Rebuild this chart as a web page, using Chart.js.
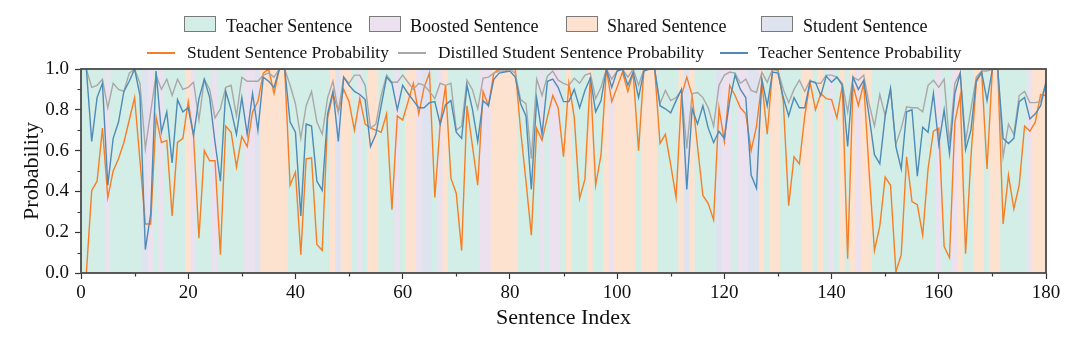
<!DOCTYPE html>
<html>
<head>
<meta charset="utf-8">
<script src="https://cdn.jsdelivr.net/npm/chart.js@4.4.0/dist/chart.umd.min.js"></script>
<style>
  html, body { margin: 0; padding: 0; background: #fff; }
  .wrap { position: relative; width: 1080px; height: 341px; font-family: 'Liberation Serif', 'Times New Roman', serif; color: #111; }
  .wrap canvas { position: absolute; left: 0; top: 0; }
  .lg-box { position: absolute; top: 16px; width: 30px; height: 14px; border: 1px solid #7a7a7a; }
  .lg-line { position: absolute; top: 52px; width: 28px; height: 2px; }
  .lg-text { position: absolute; line-height: 18px; white-space: nowrap; }
  .row1 { top: 17px; font-size: 18px; }
  .row2 { top: 43px; font-size: 17.4px; }
</style>
</head>
<body>
<div class="wrap">
  <canvas id="probChart" width="1080" height="341"></canvas>
  <div id="legend"></div>
</div>
<script>
// sentence kinds, one per index 0..180
// T = teacher, B = boosted, H = shared, S = student
const sentenceType = (
  'TTTTTBTTTT' + 'TTSBTBTTTT' + 'HBTTTBTTTT' + 'TBBSHHHHHT' + 'TTTTTTTHSH' +
  'HTBTHHTTTB' + 'THHBSSTBHT' + 'TTTTTBBHHH' + 'HHTTTTBTBB' + 'THTTTHTTHB' +
  'HHHHTHHHTT' + 'TTHSHTTTTS' + 'BBTBBSSHTH' + 'HTTTTHHTHT' + 'BTHTHBHHTT' +
  'TTTTTTTTTT' + 'BTTBHTTHHT' + 'HHTTTTTBHH' + 'H'
).split('');

// probabilities for sentences 1..180
const studentProb = [
  0.00, 0.405, 0.45, 0.71, 0.37, 0.50, 0.56, 0.64, 0.75, 0.86,
  0.55, 0.24, 0.24, 0.765, 0.64, 0.65, 0.28, 0.64, 0.66, 0.84,
  0.67, 0.17, 0.60, 0.55, 0.55, 0.09, 0.72, 0.69, 0.52, 0.67,
  0.62, 0.79, 0.84, 0.98, 1.00, 0.88, 1.00, 1.00, 0.43, 0.495,
  0.09, 0.56, 0.565, 0.14, 0.11, 0.76, 0.88, 0.79, 0.90, 0.84,
  0.70, 0.855, 0.73, 0.71, 0.70, 0.69, 0.78, 0.31, 0.77, 0.75,
  0.84, 0.93, 0.78, 0.91, 0.98, 0.37, 0.73, 0.92, 0.465, 0.39,
  0.11, 0.82, 0.625, 0.43, 0.89, 0.82, 0.98, 1.00, 1.00, 1.00,
  1.00, 0.70, 0.45, 0.185, 0.71, 0.65, 0.765, 0.87, 0.81, 0.57,
  0.93, 0.765, 0.365, 0.46, 0.96, 0.43, 0.58, 1.00, 0.84, 0.91,
  0.985, 0.89, 0.98, 0.60, 1.00, 1.00, 1.00, 0.635, 0.68, 0.53,
  0.37, 0.87, 0.96, 0.87, 0.62, 0.38, 0.34, 0.26, 0.81, 0.645,
  0.92, 0.87, 0.81, 0.78, 0.60, 0.72, 0.935, 0.68, 1.00, 1.00,
  0.84, 0.33, 0.57, 0.535, 0.77, 0.935, 0.80, 0.88, 0.855, 0.85,
  0.76, 0.92, 0.07, 0.92, 0.82, 0.93, 0.50, 0.11, 0.23, 0.47,
  0.43, 0.005, 0.09, 0.57, 0.35, 0.335, 0.185, 0.51, 0.695, 0.71,
  0.13, 0.075, 0.74, 0.87, 0.095, 0.57, 0.935, 0.985, 0.51, 1.00,
  1.00, 0.24, 0.48, 0.315, 0.43, 0.72, 0.695, 0.74, 0.875, 0.87
];

const distilledProb = [
  1.00, 0.91, 0.92, 0.95, 0.81, 0.93, 0.90, 0.89, 0.98, 1.00,
  0.93, 0.61, 0.79, 0.97, 0.90, 0.95, 0.87, 0.95, 0.90, 0.91,
  0.935, 0.75, 0.95, 0.90, 0.76, 0.805, 0.91, 0.92, 0.77, 0.96,
  0.94, 0.94, 0.94, 0.97, 0.98, 0.96, 1.00, 1.00, 0.92, 0.83,
  0.66, 0.82, 0.89, 0.74, 0.68, 0.86, 0.94, 0.79, 0.96, 0.93,
  0.97, 0.97, 0.92, 0.71, 0.73, 0.87, 0.97, 0.935, 0.935, 0.97,
  0.935, 0.90, 0.93, 0.92, 0.89, 0.855, 0.93, 0.92, 0.93, 0.70,
  0.72, 0.945, 0.90, 0.805, 0.955, 0.96, 0.98, 0.99, 0.99, 1.00,
  0.98, 0.85, 0.83, 0.56, 0.95, 0.87, 0.965, 0.99, 0.945, 0.93,
  0.92, 0.955, 0.93, 0.97, 0.98, 0.855, 0.91, 1.00, 0.95, 0.99,
  1.00, 0.96, 1.00, 0.92, 1.00, 1.00, 1.00, 0.83, 0.895, 0.845,
  0.86, 0.895, 0.61, 0.88, 0.885, 0.86, 0.81, 0.72, 0.92, 0.97,
  0.985, 0.98, 0.93, 0.95, 0.895, 0.885, 0.985, 0.935, 1.00, 0.99,
  0.90, 0.835, 0.90, 0.945, 0.89, 0.945, 0.93, 0.93, 0.97, 0.97,
  0.96, 0.93, 0.79, 0.96, 0.945, 0.97, 0.83, 0.72, 0.875, 0.77,
  0.90, 0.63, 0.71, 0.815, 0.81, 0.81, 0.79, 0.92, 0.945, 0.91,
  0.95, 0.635, 0.93, 0.98, 0.645, 0.805, 0.96, 0.99, 0.99, 1.00,
  1.00, 0.57, 0.73, 0.68, 0.87, 0.89, 0.835, 0.835, 0.84, 0.935
];

const teacherProb = [
  1.00, 0.645, 0.86, 0.93, 0.43, 0.66, 0.74, 0.89, 0.94, 1.00,
  0.87, 0.115, 0.29, 0.99, 0.69, 0.79, 0.54, 0.85, 0.79, 0.81,
  0.675, 0.855, 0.95, 0.86, 0.64, 0.45, 0.89, 0.80, 0.68, 0.86,
  0.68, 0.88, 0.70, 0.96, 0.94, 0.91, 1.00, 1.00, 0.74, 0.69,
  0.28, 0.73, 0.72, 0.45, 0.405, 0.78, 0.89, 0.645, 0.96, 0.92,
  0.89, 0.875, 0.85, 0.62, 0.68, 0.82, 0.96, 0.93, 0.80, 0.92,
  0.88, 0.845, 0.81, 0.81, 0.835, 0.84, 0.73, 0.825, 0.845, 0.69,
  0.66, 0.92, 0.805, 0.645, 0.845, 0.82, 0.95, 0.98, 0.985, 0.99,
  0.96, 0.83, 0.77, 0.41, 0.855, 0.68, 0.94, 0.95, 0.91, 0.84,
  0.84, 0.90, 0.81, 0.895, 0.955, 0.79, 0.845, 1.00, 0.91, 0.99,
  1.00, 0.92, 0.985, 0.86, 0.99, 1.00, 1.00, 0.82, 0.805, 0.785,
  0.845, 0.90, 0.41, 0.805, 0.73, 0.82, 0.71, 0.64, 0.695, 0.66,
  0.845, 0.97, 0.90, 0.86, 0.48, 0.415, 0.95, 0.82, 0.985, 0.98,
  0.86, 0.77, 0.86, 0.81, 0.81, 0.94, 0.935, 0.87, 0.965, 0.935,
  0.96, 0.92, 0.62, 0.96, 0.90, 0.945, 0.77, 0.58, 0.535, 0.77,
  0.905, 0.62, 0.51, 0.79, 0.80, 0.475, 0.715, 0.69, 0.88, 0.63,
  0.80, 0.585, 0.88, 0.98, 0.605, 0.70, 0.945, 0.985, 0.845, 1.00,
  1.00, 0.66, 0.635, 0.66, 0.84, 0.86, 0.755, 0.78, 0.82, 0.935
];

const xMajorTicks = [0, 20, 40, 60, 80, 100, 120, 140, 160, 180];
const xMinorTicks = [10, 30, 50, 70, 90, 110, 130, 150, 170];
const yMinorTicks = [0.1, 0.3, 0.5, 0.7, 0.9];

const typeInfo = {
  T: { label: 'Teacher Sentence', color: '#d3eee6' },
  B: { label: 'Boosted Sentence', color: '#ece1ee' },
  H: { label: 'Shared Sentence',  color: '#fde2d0' },
  S: { label: 'Student Sentence', color: '#dfe3f0' }
};

const lineInfo = [
  { label: 'Student Sentence Probability', color: '#f77e24', values: studentProb },
  { label: 'Distilled Student Sentence Probability', color: '#a8a8a8', values: distilledProb },
  { label: 'Teacher Sentence Probability', color: '#4e8bb6', values: teacherProb }
];

const serif = "'Liberation Serif', 'Times New Roman', serif";

// legend, two rows above the plot
const legend = document.getElementById('legend');
const boxSpots = [[184, 226], [369, 410], [566, 607], [761, 803]];
['T', 'B', 'H', 'S'].forEach((k, i) => {
  const box = document.createElement('div');
  box.className = 'lg-box';
  box.style.left = boxSpots[i][0] + 'px';
  box.style.background = typeInfo[k].color;
  legend.appendChild(box);
  const txt = document.createElement('div');
  txt.className = 'lg-text row1';
  txt.style.left = boxSpots[i][1] + 'px';
  txt.textContent = typeInfo[k].label;
  legend.appendChild(txt);
});
const lineSpots = [[147, 187], [398, 438], [720, 758]];
lineInfo.forEach((d, i) => {
  const ln = document.createElement('div');
  ln.className = 'lg-line';
  ln.style.left = lineSpots[i][0] + 'px';
  ln.style.background = d.color;
  legend.appendChild(ln);
  const txt = document.createElement('div');
  txt.className = 'lg-text row2';
  txt.style.left = lineSpots[i][1] + 'px';
  txt.textContent = d.label;
  legend.appendChild(txt);
});

// minor ticks and the box around the plot
const axisFrame = {
  id: 'axisFrame',
  afterDraw(chart) {
    const { ctx, chartArea: a, scales: { x, y } } = chart;
    ctx.save();
    ctx.strokeStyle = '#333';
    ctx.lineWidth = 1.2;
    ctx.beginPath();
    xMinorTicks.forEach(v => {
      const px = Math.round(x.getPixelForValue(v)) + 0.5;
      ctx.moveTo(px, a.bottom);
      ctx.lineTo(px, a.bottom + 3.5);
    });
    yMinorTicks.forEach(v => {
      const py = Math.round(y.getPixelForValue(v)) + 0.5;
      ctx.moveTo(a.left, py);
      ctx.lineTo(a.left - 3.5, py);
    });
    ctx.stroke();
    ctx.strokeStyle = '#4a4a4a';
    ctx.lineWidth = 1.8;
    ctx.strokeRect(a.left, a.top, a.right - a.left, a.bottom - a.top);
    ctx.restore();
  }
};

const datasets = lineInfo.map((d, i) => ({
  type: 'line',
  label: d.label,
  data: d.values.map((v, j) => ({ x: j + 1, y: v })),
  borderColor: d.color,
  borderWidth: 1.4,
  pointRadius: 0,
  tension: 0,
  order: 3 - i
}));

datasets.push({
  type: 'bar',
  label: 'sentence type',
  data: sentenceType.map((t, i) => ({ x: i, y: 1 })),
  backgroundColor: sentenceType.map(t => typeInfo[t].color),
  borderWidth: 0,
  barPercentage: 1,
  categoryPercentage: 1,
  order: 10
});

new Chart(document.getElementById('probChart'), {
  type: 'line',
  data: { datasets },
  options: {
    responsive: false,
    animation: false,
    events: [],
    layout: { padding: { top: 69, right: 34, left: 0, bottom: 0 } },
    plugins: { legend: { display: false }, tooltip: { enabled: false } },
    scales: {
      x: {
        type: 'linear',
        min: 0,
        max: 180,
        offset: false,
        afterFit: s => { s.height = 68; },
        afterBuildTicks: s => { s.ticks = xMajorTicks.map(v => ({ value: v })); },
        border: { display: false },
        grid: { offset: false, drawOnChartArea: false, drawTicks: true, tickLength: 6, tickColor: '#333', tickWidth: 1.2 },
        ticks: { color: '#111', padding: 3, maxRotation: 0, font: { family: serif, size: 19 } },
        title: { display: true, text: 'Sentence Index', color: '#111', padding: { top: 0, bottom: 10 }, font: { family: serif, size: 22 } }
      },
      y: {
        min: 0,
        max: 1,
        afterFit: s => { s.width = 81; },
        border: { display: false },
        grid: { drawOnChartArea: false, drawTicks: true, tickLength: 6, tickColor: '#333', tickWidth: 1.2 },
        ticks: { stepSize: 0.2, color: '#111', padding: 6, font: { family: serif, size: 19 }, callback: v => Number(v).toFixed(1) },
        title: { display: true, text: 'Probability', color: '#111', padding: { top: 19, bottom: 0 }, font: { family: serif, size: 22 } }
      }
    }
  },
  plugins: [axisFrame]
});
</script>
</body>
</html>
